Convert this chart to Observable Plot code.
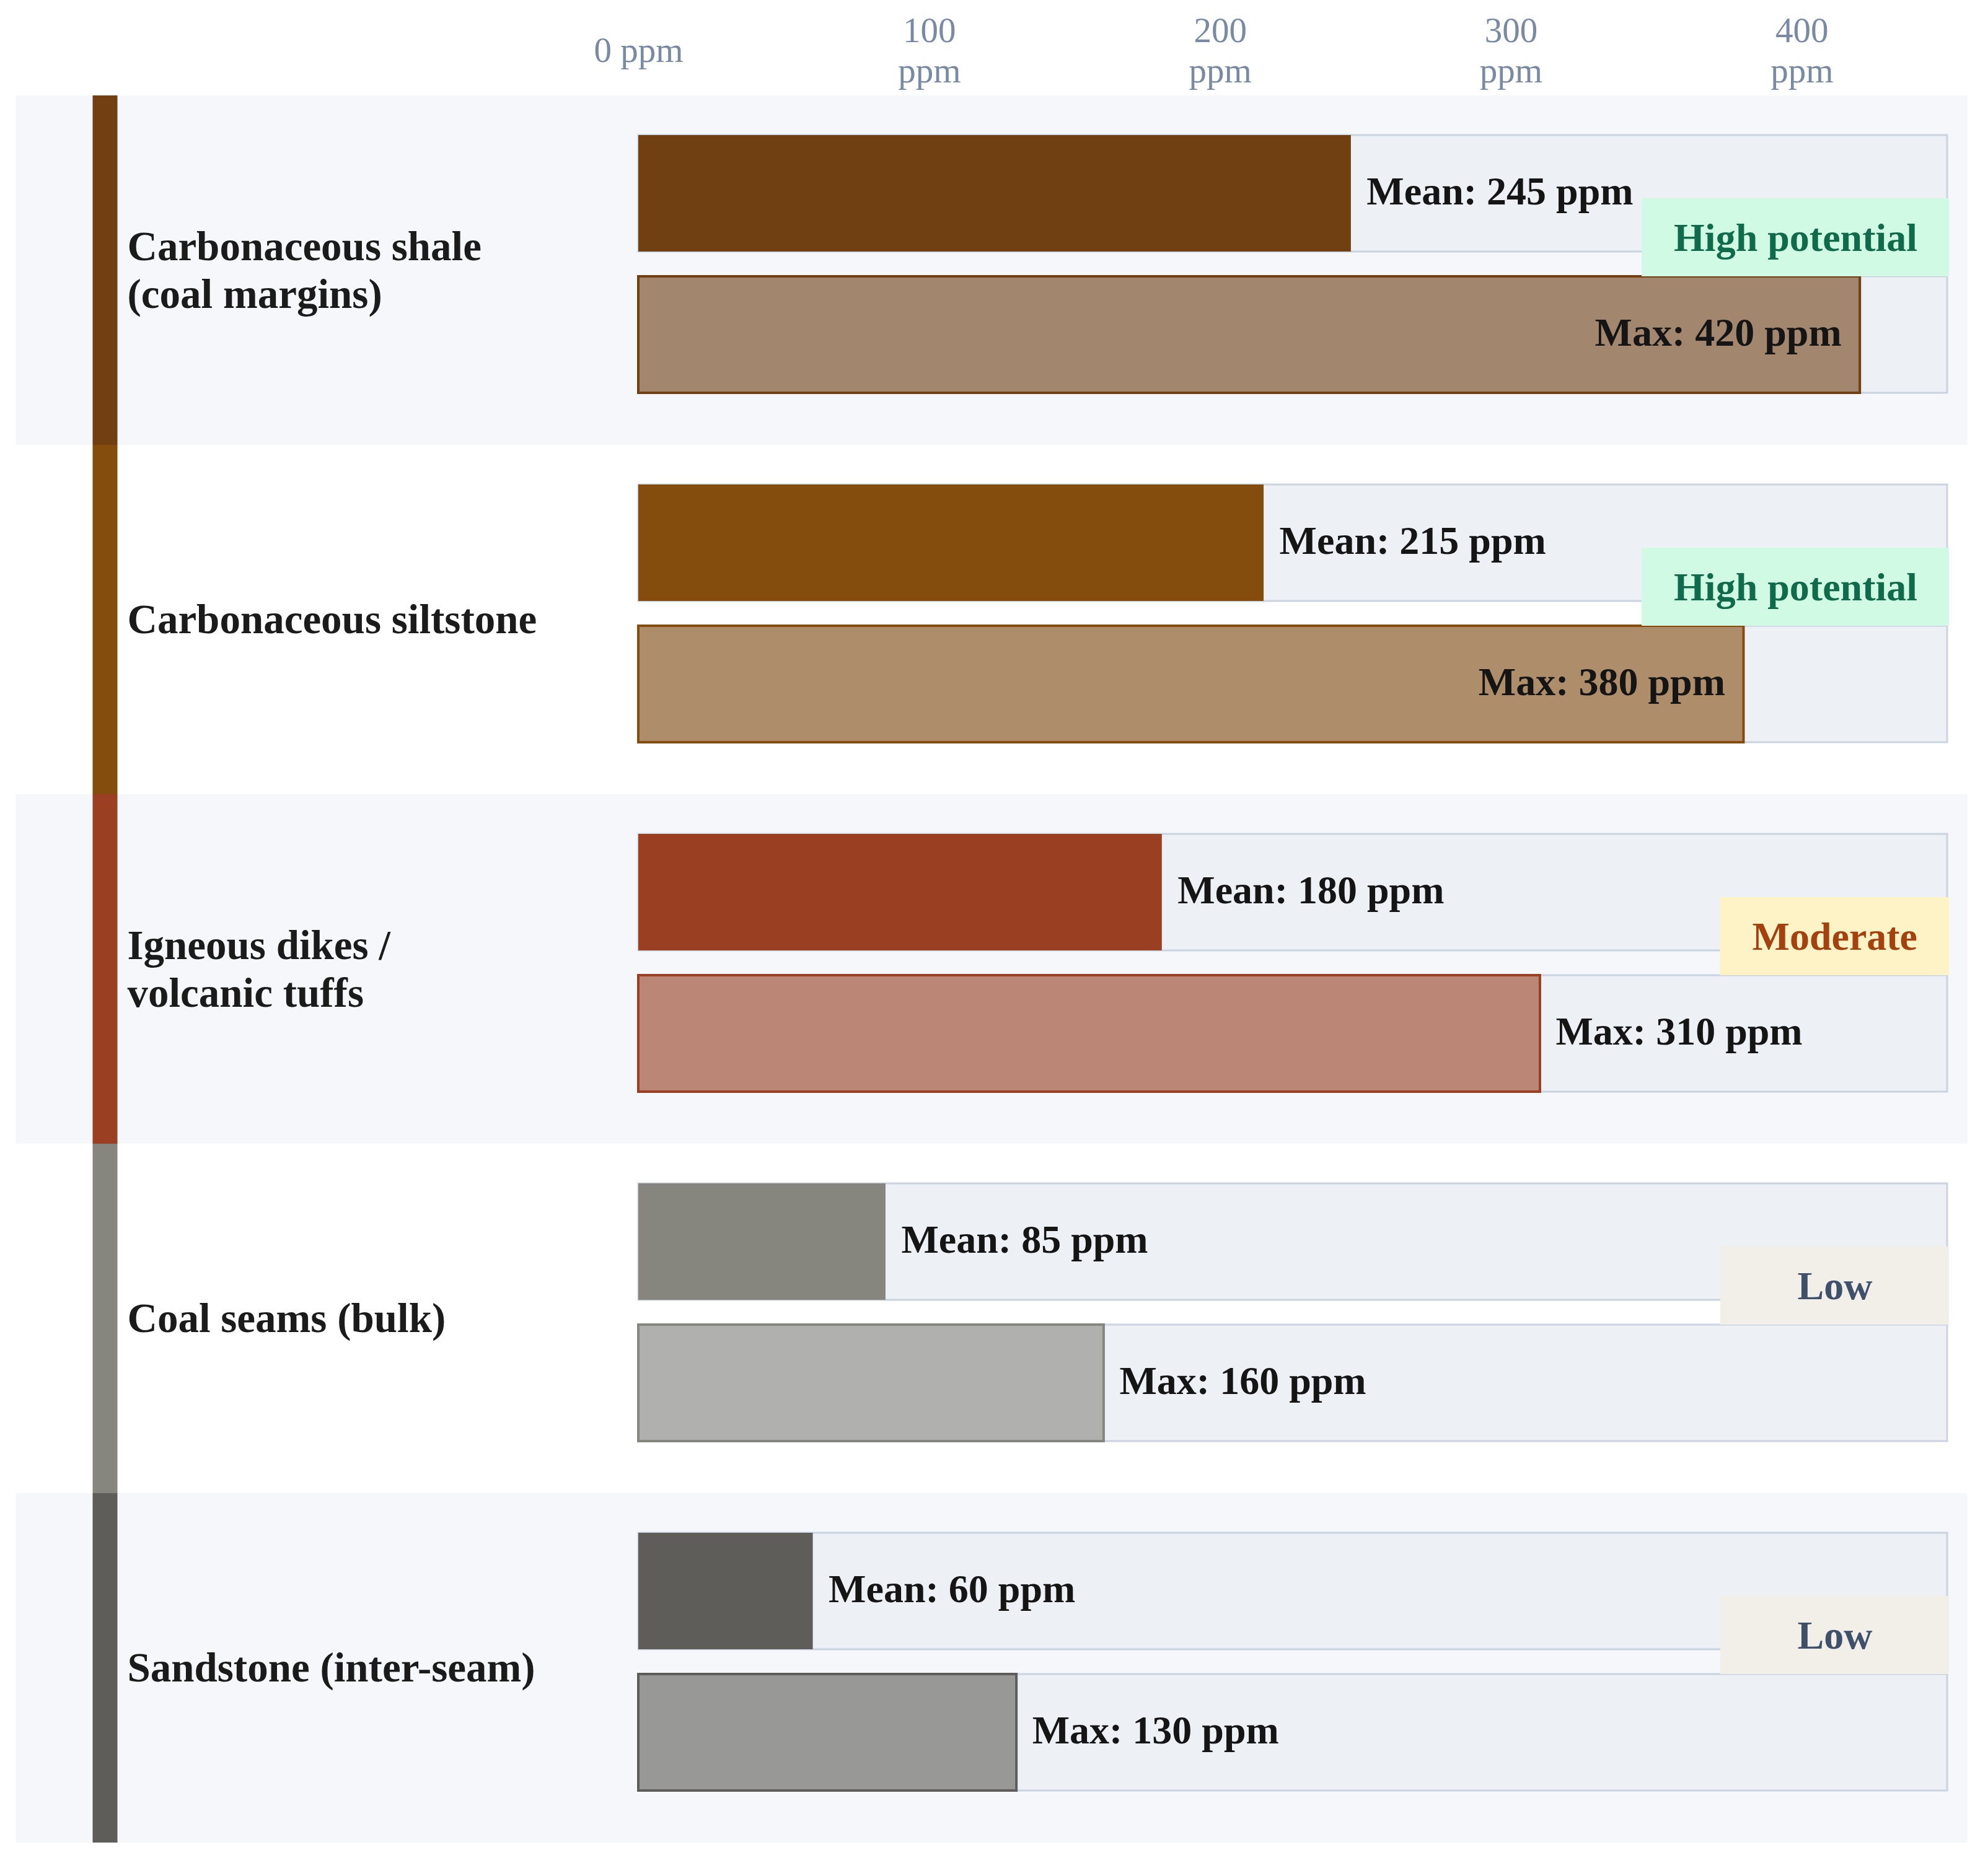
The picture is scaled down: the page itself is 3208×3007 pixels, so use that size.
<!DOCTYPE html>
<html>
<head>
<meta charset="utf-8">
<script src="https://cdn.jsdelivr.net/npm/d3@7"></script>
<script src="https://cdn.jsdelivr.net/npm/@observablehq/plot@0.6"></script>
<style>
  html, body { margin: 0; padding: 0; background: #ffffff; }
  #chart svg { display: block; }
</style>
</head>
<body>
<div id="chart"></div>
<script>
// ---- data ----
const categories = [
  "Carbonaceous shale\n(coal margins)",
  "Carbonaceous siltstone",
  "Igneous dikes /\nvolcanic tuffs",
  "Coal seams (bulk)",
  "Sandstone (inter-seam)"
];
const meanPpm = [245, 215, 180, 85, 60];
const maxPpm = [420, 380, 310, 160, 130];
const potential = ["High potential", "High potential", "Moderate", "Low", "Low"];
const rockColors = ["#704012", "#844d0d", "#9a3f22", "#87867e", "#5f5d59"];
const tickValues = [0, 100, 200, 300, 400];
const xMax = 450;

// ---- styles ----
const badgeStyle = {
  "High potential": {fill: "#d1fae5", text: "#0f6b4b"},
  "Moderate": {fill: "#fef3c7", text: "#a3420f"},
  "Low": {fill: "#f1efe8", text: "#3f506b"}
};
const W = 3208, H = 3007;
const M = {top: 153, right: 66, bottom: 32, left: 1030};
const FONT = "'Liberation Serif', 'Times New Roman', serif";
const valueFontSize = 64;
const badgeFontSize = 64;

// text measuring
const ctx = document.createElement("canvas").getContext("2d");
function textWidth(s, size, weight) {
  ctx.font = `${weight} ${size}px 'Liberation Serif'`;
  return ctx.measureText(s).width;
}

const rows = categories.map((category, i) => ({
  category, i, mean: meanPpm[i], max: maxPpm[i], potential: potential[i], color: rockColors[i]
}));
const bars = rows.flatMap(r => [
  {category: r.category, series: "mean", value: r.mean, color: r.color, label: `Mean: ${r.mean} ppm`},
  {category: r.category, series: "max", value: r.max, color: r.color, label: `Max: ${r.max} ppm`}
]);

const pxPerPpm = (W - M.left - M.right) / xMax;
const labelPad = 25;
bars.forEach(b => {
  const tw = textWidth(b.label, valueFontSize, "bold");
  b.inside = b.value * pxPerPpm + labelPad + tw > xMax * pxPerPpm;
});

const badgeMarks = rows.flatMap(r => {
  const st = badgeStyle[r.potential];
  const w = Math.max(textWidth(r.potential, badgeFontSize, "bold") + 100, 366);
  return [
    Plot.barX([r], {
      x1: xMax, x2: xMax, y: () => "mean", fy: "category",
      fill: st.fill, insetLeft: -w, insetRight: -3, insetTop: 102, insetBottom: -40
    }),
    Plot.text([r], {
      x: xMax, y: () => "mean", fy: "category", text: "potential",
      textAnchor: "middle", dx: -w / 2 + 1.5, dy: 72,
      fontSize: badgeFontSize, fontWeight: "bold", fill: st.text
    })
  ];
});

const plot = Plot.plot({
  width: W,
  height: H,
  marginTop: M.top,
  marginRight: M.right,
  marginBottom: M.bottom,
  marginLeft: M.left,
  style: {fontFamily: FONT, background: "#ffffff"},
  x: {domain: [0, xMax], label: null},
  y: {domain: ["mean", "max"], paddingInner: 0.1747, paddingOuter: 0.3197, align: 0.43, axis: null},
  fy: {domain: categories, padding: 0, axis: null},
  color: {type: "identity"},
  marks: [
    // alternating row backgrounds
    Plot.rect(rows.filter(r => r.i % 2 === 0), {
      fy: "category", fill: "#f5f7fa",
      insetLeft: -(M.left - 25), insetRight: -(M.right - 33)
    }),
    // colored strip at left
    Plot.ruleX(rows, {x: 0, fy: "category", stroke: "color", strokeWidth: 40, dx: -(M.left - 169)}),
    // category labels
    Plot.text(rows, {
      fy: "category", frameAnchor: "left", text: "category", textAnchor: "start",
      dx: -(M.left - 205), dy: -3, fontSize: 67, fontWeight: "bold", lineHeight: 1.15, fill: "#1b1b1b"
    }),
    // tracks
    Plot.barX(bars, {x1: 0, x2: xMax, y: "series", fy: "category", fill: "#edf1f6", stroke: "#cad4e1", strokeWidth: 3}),
    // max bars
    Plot.barX(bars.filter(b => b.series === "max"), {
      x1: 0, x2: "value", y: "series", fy: "category",
      fill: "color", fillOpacity: 0.6, stroke: "color", strokeWidth: 4
    }),
    // mean bars
    Plot.barX(bars.filter(b => b.series === "mean"), {
      x1: 0, x2: "value", y: "series", fy: "category", fill: "color"
    }),
    // value labels
    Plot.text(bars.filter(b => !b.inside), {
      x: "value", y: "series", fy: "category", text: "label", textAnchor: "start",
      dx: labelPad, dy: -3, fontSize: valueFontSize, fontWeight: "bold", fill: "#151515"
    }),
    Plot.text(bars.filter(b => b.inside), {
      x: "value", y: "series", fy: "category", text: "label", textAnchor: "end",
      dx: -30, dy: -3, fontSize: valueFontSize, fontWeight: "bold", fill: "#151515"
    }),
    // potential badges
    ...badgeMarks,
    // top axis
    Plot.axisX({
      anchor: "top", ticks: tickValues, tickSize: 0, tickPadding: 75, label: null,
      lineAnchor: "middle", lineHeight: 1.15, fontSize: 57, color: "#7a8aa3",
      tickFormat: d => d === 0 ? "0 ppm" : `${d}\nppm`
    })
  ]
});

document.getElementById("chart").append(plot);
</script>
</body>
</html>
